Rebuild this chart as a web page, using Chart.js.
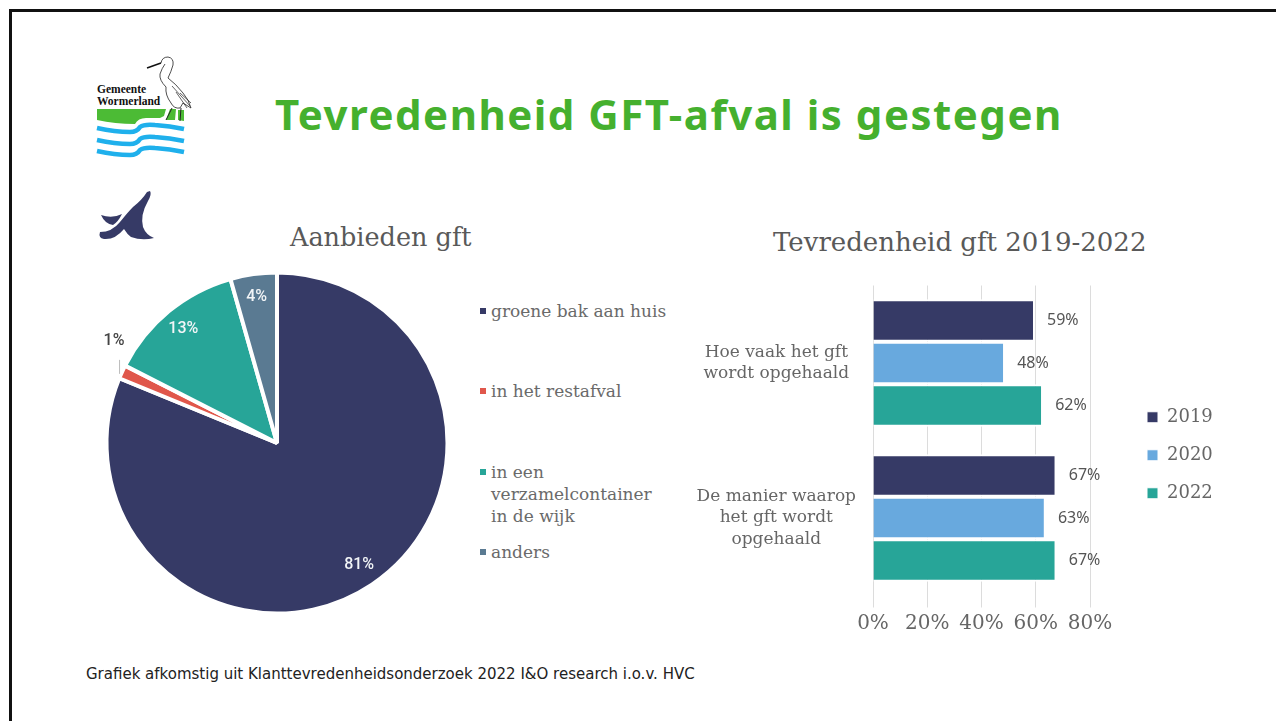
<!DOCTYPE html>
<html lang="nl"><head><meta charset="utf-8"><title>Tevredenheid GFT-afval</title>
<script src="https://cdn.jsdelivr.net/npm/chart.js@4"></script>
<style>
html,body{margin:0;padding:0;background:#fff;width:1276px;height:721px;overflow:hidden}
#frame{position:absolute;left:9px;top:9px;width:1276px;height:721px;border:3px solid #111;box-sizing:border-box}
.t{position:absolute;white-space:nowrap}
#main{left:275px;top:84.5px;font:bold 42px "Noto Sans";color:#45B02E;letter-spacing:1.5px}
#foot{left:86px;top:665px;font:15px "DejaVu Sans";color:#222}
.ct{font-family:"DejaVu Serif";color:#595959}
#t1{left:290px;top:222px;font-size:25.5px}
#t2{left:773px;top:227px;font-size:26px}
.li{position:absolute;left:491px;font:17px/22px "DejaVu Serif";color:#6a6a6a;white-space:pre}
.mk{position:absolute;left:480px;width:6px;height:6px}
canvas{position:absolute;display:block}
#pw{position:absolute;left:97px;top:263px;width:360px;height:360px}
#bw{position:absolute;left:690px;top:275px;width:568px;height:358px}
svg{position:absolute;left:0;top:0}
</style></head><body>
<div id="frame"></div>
<svg width="300" height="260" viewBox="0 0 300 260">
 <path d="M97 109H166L164 116L160 118H146Q138 118 135 124Q115 124 97 120Z" fill="#4CBB35"/>
 <path d="M166 120L170 109H176L175 120ZM178 120V110H184V121Z" fill="#4CBB35"/>
 <g fill="none" stroke="#1FB0EC" stroke-width="4.5">
  <path d="M97 128Q115 132 130 132Q137 132 140 127Q144 124 155 125Q170 126 184 129"/>
  <path d="M97 140Q115 144 130 144Q137 144 140 139Q144 136 155 137Q170 138 184 141"/>
  <path d="M97 151Q115 155 130 155Q137 155 140 150Q144 147 155 148Q170 149 184 152"/>
 </g>
 <text x="97" y="93" font-family="Liberation Serif" font-weight="bold" font-size="11.5" fill="#111">Gemeente</text>
 <text x="97" y="105" font-family="Liberation Serif" font-weight="bold" font-size="11.5" fill="#111">Wormerland</text>
 <path d="M147 68L161 63" stroke="#111" stroke-width="1.6" fill="none"/>
 <path d="M161 63Q162 57 168 57Q174 58 173 65Q171 72 168 78Q176 84 183 93Q189 100 191 108L183 103L180 108Q174 109 171 103Q165 95 166 87Q159 80 160 74Q162 68 165 64" fill="#fff" stroke="#222" stroke-width=".8"/>
 <path d="M172 86L190 106M176 92L187 108M180 93L191 103" stroke="#222" stroke-width=".7" fill="none"/>
 <path d="M172 108L166 120M181 108L180 121" stroke="#222" stroke-width="1" fill="none"/>
 <path d="M150 191Q152 194 148 201Q140 215 143 227Q146 235 154 238Q142 241 131 237Q127 234 124 229Q115 240 104 239Q98 238 100 232Q112 232 120 222Q128 212 133 207Q142 200 147 192Z" fill="#363A66"/>
 <path d="M101 215Q112 219 122 214Q118 222 113 225Q105 224 101 215Z" fill="#363A66"/>
</svg>
<div id="main" class="t">Tevredenheid GFT-afval is gestegen</div>
<div id="t1" class="t ct">Aanbieden gft</div>
<div id="t2" class="t ct">Tevredenheid gft 2019-2022</div>
<div id="foot" class="t">Grafiek afkomstig uit Klanttevredenheidsonderzoek 2022 I&amp;O research i.o.v. HVC</div>
<div id="pieLegend"></div>
<div id="pw"><canvas id="pie" width="360" height="360"></canvas></div>
<div id="bw"><canvas id="bar" width="568" height="358"></canvas></div>
<script>
const pieCategories = ["groene bak aan huis","in het restafval","in een\nverzamelcontainer\nin de wijk","anders"];
const pieValues = [81.2,1.3,13.1,4.4];
const pieColors = ["#363A66","#E0574B","#27A598","#5A7A92"];
const pieLegendTop = [300,380,461,541];

const barCategories = [["Hoe vaak het gft","wordt opgehaald"],["De manier waarop","het gft wordt","opgehaald"]];
const years = ["2019","2020","2022"];
const values2019 = [59,67];
const values2020 = [48,63];
const values2022 = [62,67];
const yearColors = ["#363A66","#68A9DE","#27A598"];
const xTicks = [0,20,40,60,80];

Chart.defaults.animation = false;
Chart.defaults.responsive = false;

pieCategories.forEach((c,i)=>{
  const d=document.createElement('div');d.className='li';d.textContent=c;d.style.top=pieLegendTop[i]+'px';
  const m=document.createElement('div');m.className='mk';m.style.background=pieColors[i];m.style.top=(pieLegendTop[i]+8)+'px';
  const h=document.getElementById('pieLegend');h.appendChild(m);h.appendChild(d);
});

const pieLabels={id:'pieLabels',afterDatasetsDraw(chart){
  const ctx=chart.ctx;ctx.save();ctx.textAlign='center';ctx.textBaseline='middle';ctx.font='500 16px Roboto';
  chart.getDatasetMeta(0).data.forEach((arc,i)=>{
    const {startAngle,endAngle,x,y,outerRadius}=arc.getProps(['startAngle','endAngle','x','y','outerRadius'],true);
    const a=(startAngle+endAngle)/2,v=Math.round(pieValues[i]);
    if(v<2){
      const ox=x+Math.cos(a)*outerRadius,oy=y+Math.sin(a)*outerRadius;
      ctx.strokeStyle='#bbb';ctx.lineWidth=1;ctx.beginPath();ctx.moveTo(ox-2.5,oy-12);ctx.lineTo(ox-2.5,oy+2);ctx.stroke();
      ctx.fillStyle='#444';ctx.fillText(v+'%',ox-8,oy-31);
    }else{
      const r=outerRadius*0.865;
      ctx.fillStyle='#f2f5f7';ctx.fillText(v+'%',x+Math.cos(a)*r,y+Math.sin(a)*r);
    }
  });ctx.restore();
}};
new Chart(document.getElementById('pie'),{type:'pie',
  data:{labels:pieCategories,datasets:[{data:pieValues,backgroundColor:pieColors,borderColor:'#fff',borderWidth:4}]},
  options:{radius:170.5,layout:{padding:0},plugins:{legend:{display:false},tooltip:{enabled:false},title:{display:false}}},
  plugins:[pieLabels]});

const barLabels={id:'barLabels',
 afterLayout(chart){const l=chart.legend;l.left+=37;l.right+=37;l.top-=4;l.bottom-=4;},
 afterDatasetsDraw(chart){
  const ctx=chart.ctx;ctx.save();ctx.textAlign='left';ctx.textBaseline='middle';ctx.font='16px "Noto Sans"';ctx.fillStyle='#555';
  chart.data.datasets.forEach((ds,di)=>{
    chart.getDatasetMeta(di).data.forEach((b,i)=>{ctx.fillText(ds.data[i]+'%',b.x+14,b.y);});
  });ctx.restore();
}};
new Chart(document.getElementById('bar'),{type:'bar',
  data:{labels:barCategories,datasets:years.map((y,i)=>({label:y,data:[values2019,values2020,values2022][i],
    backgroundColor:yearColors[i],borderColor:'#fff',borderWidth:{top:2,bottom:2,left:0,right:0},borderSkipped:false,
    barPercentage:1,categoryPercentage:0.823}))},
  options:{indexAxis:'y',layout:{padding:{top:10.5,left:0,right:0,bottom:0}},
    scales:{
      x:{min:0,max:80,afterBuildTicks(s){s.ticks=xTicks.map(v=>({value:v}));},
        afterFit(s){s.height=37.5;s.paddingRight=168;s.paddingLeft=0;},
        border:{display:false},
        grid:{color:'#dcdcdc',lineWidth:1,tickLength:12,drawTicks:true},
        ticks:{padding:4,maxRotation:0,autoSkip:false,color:'#666',font:{family:'DejaVu Serif',size:20},callback:v=>v+'%'}},
      y:{afterFit(s){s.width=183;s.paddingTop=0;s.paddingBottom=0;},border:{display:false},grid:{display:false},
        ticks:{crossAlign:'center',padding:9,color:'#666',font:{family:'DejaVu Serif',size:17,lineHeight:1.27},autoSkip:false}}
    },
    plugins:{tooltip:{enabled:false},title:{display:false},
      legend:{position:'right',labels:{boxWidth:11,boxHeight:11,padding:20,color:'#666',font:{family:'DejaVu Serif',size:18}}}}},
  plugins:[barLabels]});
</script>
</body></html>
